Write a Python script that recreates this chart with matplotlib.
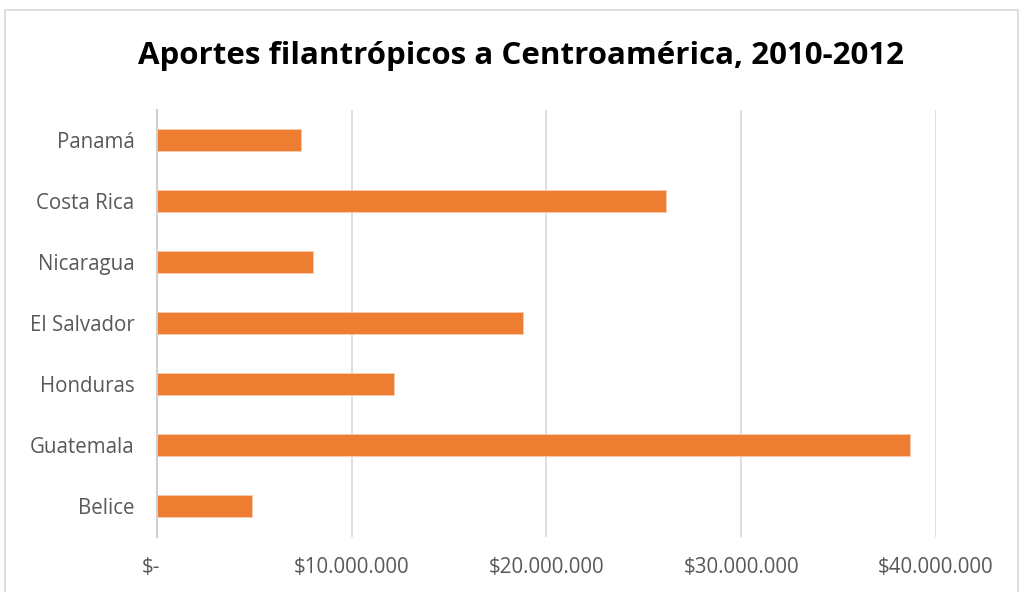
import matplotlib
matplotlib.use("Agg")
import matplotlib.pyplot as plt
import matplotlib.transforms as mtransforms
from matplotlib.patches import Rectangle
from matplotlib.ticker import FuncFormatter

categories = ["Belice", "Guatemala", "Honduras", "El Salvador", "Nicaragua", "Costa Rica", "Panamá"]
values = [4.9e6, 38.65e6, 12.2e6, 18.78e6, 8.0e6, 26.15e6, 7.42e6]
title = "Aportes filantrópicos a Centroamérica, 2010-2012"
xticks = [0, 10e6, 20e6, 30e6, 40e6]

W, H = 1021, 592
fig = plt.figure(figsize=(W / 100, H / 100), dpi=100)
fig.patch.set_facecolor("white")
fig.add_artist(Rectangle((5 / W, -0.01), (1013 / W), 1 - 10 / H + 0.01,
                         transform=fig.transFigure, fill=False,
                         edgecolor="#d9d9d9", linewidth=1.2))

left, right = 156.8 / W, 936 / W
top, bottom = 1 - 109.5 / H, 1 - 536.5 / H
ax = fig.add_axes([left, bottom, right - left, top - bottom])

ypos = list(range(len(categories)))
ax.barh(ypos, values, height=0.345, color="#ed7d31", edgecolor="#f8cbad", linewidth=0.6, zorder=3)
ax.set_ylim(-0.5, len(categories) - 0.5)
ax.set_xlim(0, 40e6)
ax.set_yticks(ypos)
ax.set_yticklabels(categories)
ax.set_xticks(xticks)

def fmt(v, pos):
    if v == 0:
        return "$-"
    return "$" + f"{int(v):,}".replace(",", ".")

ax.xaxis.set_major_formatter(FuncFormatter(fmt))
ax.grid(axis="x", color="#d9d9d9", linewidth=1.2, zorder=0)
for s in ["top", "right", "bottom"]:
    ax.spines[s].set_visible(False)
ax.spines["left"].set_color("#d0d0d0")
ax.spines["left"].set_linewidth(1.5)
ax.spines["left"].set_zorder(4)
ax.tick_params(axis="both", length=0, labelsize=14.8, labelcolor="#595959")
ax.tick_params(axis="y", pad=16)
ax.tick_params(axis="x", pad=15)
for lab in ax.get_xticklabels() + ax.get_yticklabels():
    lab.set_family("Open Sans")

fig.canvas.draw()
first = ax.get_xticklabels()[0]
first.set_transform(first.get_transform() + mtransforms.ScaledTranslation(-6 / 100, 0, fig.dpi_scale_trans))

fig.text(521 / W, 1 - 56 / H, title, ha="center", va="center",
         fontsize=22.5, fontweight="bold", family="Open Sans", color="black")

fig.savefig("out.png", dpi=100)
